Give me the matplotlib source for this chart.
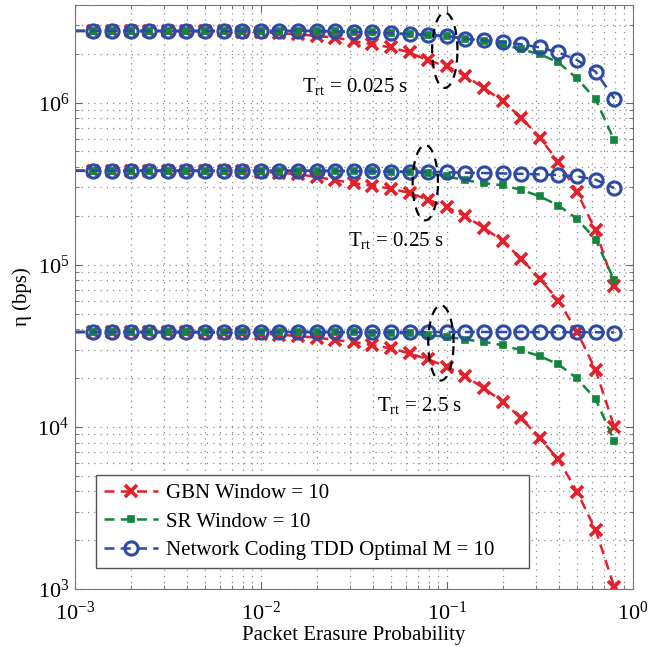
import numpy as np
import matplotlib
matplotlib.use("Agg")
import matplotlib.pyplot as plt

plt.rcParams['font.family'] = ['Liberation Serif', 'DejaVu Serif']
plt.rcParams['mathtext.fontset'] = 'custom'
plt.rcParams['mathtext.rm'] = 'Liberation Serif'
plt.rcParams['mathtext.it'] = 'Liberation Serif:italic'

# packet erasure probability: line starts at 1e-3, markers from 10^-2.9 to 10^-0.1
p = 10.0 ** np.arange(-3.0, -0.05, 0.1)

# T_rt = 0.025 s
gbn_1 = np.array([2.77, 2.77, 2.77, 2.77, 2.76, 2.76, 2.76, 2.75, 2.75, 2.74,
                  2.71, 2.68, 2.64, 2.58, 2.52, 2.40, 2.29, 2.19, 2.04, 1.82,
                  1.68, 1.46, 1.23, 1.02, 0.807, 0.608, 0.43, 0.28, 0.163, 0.074]) * 1e6
sr_1 = np.array([2.77, 2.77, 2.77, 2.77, 2.77, 2.77, 2.77, 2.77, 2.77, 2.77,
                 2.77, 2.77, 2.77, 2.77, 2.75, 2.73, 2.71, 2.68, 2.64, 2.60,
                 2.56, 2.48, 2.40, 2.29, 2.13, 1.99, 1.77, 1.41, 1.05, 0.585]) * 1e6
nc_1 = np.array([2.77, 2.77, 2.77, 2.77, 2.77, 2.77, 2.77, 2.77, 2.77, 2.77,
                 2.77, 2.77, 2.77, 2.77, 2.75, 2.73, 2.71, 2.68, 2.64, 2.63,
                 2.58, 2.48, 2.43, 2.37, 2.29, 2.19, 2.04, 1.83, 1.55, 1.06]) * 1e6

# T_rt = 0.25 s
gbn_2 = np.array([3.80, 3.80, 3.80, 3.80, 3.80, 3.79, 3.79, 3.79, 3.78, 3.78,
                  3.74, 3.70, 3.62, 3.48, 3.32, 3.19, 3.07, 2.95, 2.77, 2.52,
                  2.27, 1.99, 1.69, 1.40, 1.09, 0.82, 0.60, 0.387, 0.224, 0.100]) * 1e5
sr_2 = np.array([3.80, 3.80, 3.80, 3.80, 3.80, 3.80, 3.80, 3.80, 3.80, 3.80,
                 3.80, 3.80, 3.80, 3.80, 3.79, 3.78, 3.77, 3.75, 3.73, 3.68,
                 3.51, 3.32, 3.19, 3.09, 2.90, 2.64, 2.32, 1.92, 1.43, 0.80]) * 1e5
nc_2 = np.array([3.80, 3.80, 3.80, 3.80, 3.80, 3.80, 3.80, 3.80, 3.80, 3.80,
                 3.80, 3.80, 3.80, 3.80, 3.79, 3.78, 3.77, 3.76, 3.75, 3.74,
                 3.72, 3.70, 3.68, 3.66, 3.64, 3.61, 3.58, 3.51, 3.35, 2.97]) * 1e5

# T_rt = 2.5 s
gbn_3 = np.array([3.85, 3.85, 3.85, 3.85, 3.84, 3.84, 3.83, 3.82, 3.81, 3.79,
                  3.76, 3.71, 3.63, 3.55, 3.44, 3.34, 3.19, 3.05, 2.84, 2.61,
                  2.35, 2.05, 1.73, 1.43, 1.13, 0.85, 0.63, 0.398, 0.231, 0.103]) * 1e4
sr_3 = np.array([3.85, 3.85, 3.85, 3.85, 3.85, 3.85, 3.85, 3.85, 3.85, 3.85,
                 3.85, 3.85, 3.85, 3.85, 3.84, 3.83, 3.82, 3.80, 3.77, 3.68,
                 3.60, 3.46, 3.35, 3.19, 2.97, 2.73, 2.43, 1.99, 1.48, 0.82]) * 1e4
nc_3 = np.array([3.85, 3.85, 3.85, 3.85, 3.85, 3.85, 3.85, 3.85, 3.85, 3.85,
                 3.85, 3.85, 3.85, 3.85, 3.85, 3.85, 3.85, 3.85, 3.85, 3.85,
                 3.85, 3.85, 3.85, 3.85, 3.85, 3.84, 3.84, 3.84, 3.84, 3.82]) * 1e4

# trailing spaces on the last entry widen the box like the original legend
labels = ["GBN Window = 10", "SR Window = 10", "Network Coding TDD Optimal M = 10     "]
trt_text = ["0.025", "0.25", "2.5"]
# text anchors (x, baseline y) and dashed ellipse centres (log10 x, log10 y)
text_pos = [(0.0166, 1.16e6), (0.0294, 1.30e5), (0.042, 1.25e4)]
ell_centre = [(-1.011, 6.323), (-1.116, 5.506), (-1.032, 4.518)]
ell_half = (0.068, 0.232)

red = '#e4202b'
green = '#13853d'
blue = '#2c4aa6'

fig = plt.figure(figsize=(6.62, 6.47), dpi=100)
ax = fig.add_axes([0.113, 0.0896, 0.843, 0.9026])

lw = 1.8
dash = (4, 2.5)
mk = slice(1, None)
for g, s, n in [(gbn_1, sr_1, nc_1), (gbn_2, sr_2, nc_2), (gbn_3, sr_3, nc_3)]:
    ax.plot(p, g, color=red, lw=lw, ls='--', dashes=dash, marker='x', ms=9,
            mew=2.6, markevery=mk)
    ax.plot(p, s, color=green, lw=lw, ls='--', dashes=dash, marker='s', ms=4.8,
            mew=1.2, mfc=green, markevery=mk)
    ax.plot(p, n, color=blue, lw=lw, ls='--', dashes=dash, marker='o', ms=9.5,
            mew=2.2, mfc='none', markevery=mk)

# legend proxies
h1, = ax.plot([], [], color=red, lw=lw, ls='--', dashes=dash, marker='x', ms=9, mew=2.6)
h2, = ax.plot([], [], color=green, lw=lw, ls='--', dashes=dash, marker='s', ms=4.8, mew=1.2)
h3, = ax.plot([], [], color=blue, lw=lw, ls='--', dashes=dash, marker='o', ms=9.5,
              mew=2.2, mfc='none')

t = np.linspace(0, 2 * np.pi, 120)
for (cx, cy), (tx, ty), tr in zip(ell_centre, text_pos, trt_text):
    ax.plot(10 ** (cx + ell_half[0] * np.cos(t)), 10 ** (cy + ell_half[1] * np.sin(t)),
            color='black', lw=1.6, ls='--', dashes=(4, 3))
    ax.text(tx, ty, r"T$_{\mathrm{rt}}$ = " + tr + " s", fontsize=15,
            ha='left', va='baseline')

ax.set_xscale('log')
ax.set_yscale('log')
ax.set_xlim(1e-3, 1)
ax.set_ylim(1e3, 4e6)
ax.grid(True, which='both', ls=(0, (1, 4)), lw=0.9, color='#8c8c8c')
ax.tick_params(which='both', direction='in', top=True, right=True, labelsize=16,
               color='#666666')
ax.tick_params(axis='x', which='major', pad=9)
ax.tick_params(axis='y', which='major', pad=4)
ax.tick_params(which='major', length=5)
ax.tick_params(which='minor', length=3)
for sp in ax.spines.values():
    sp.set_color('#777777')
ax.set_xlabel("Packet Erasure Probability", fontsize=15, labelpad=1)
ax.set_ylabel("η (bps)", fontsize=15, labelpad=4)

leg = ax.legend([h1, h2, h3], labels, loc='lower left', fontsize=15,
                handlelength=2.6, labelspacing=0.42, borderaxespad=1.0,
                fancybox=False, framealpha=1, edgecolor='#555555',
                borderpad=0.4, handletextpad=0.4)
leg.get_frame().set_linewidth(1.0)

fig.savefig("out.png", dpi=100)
